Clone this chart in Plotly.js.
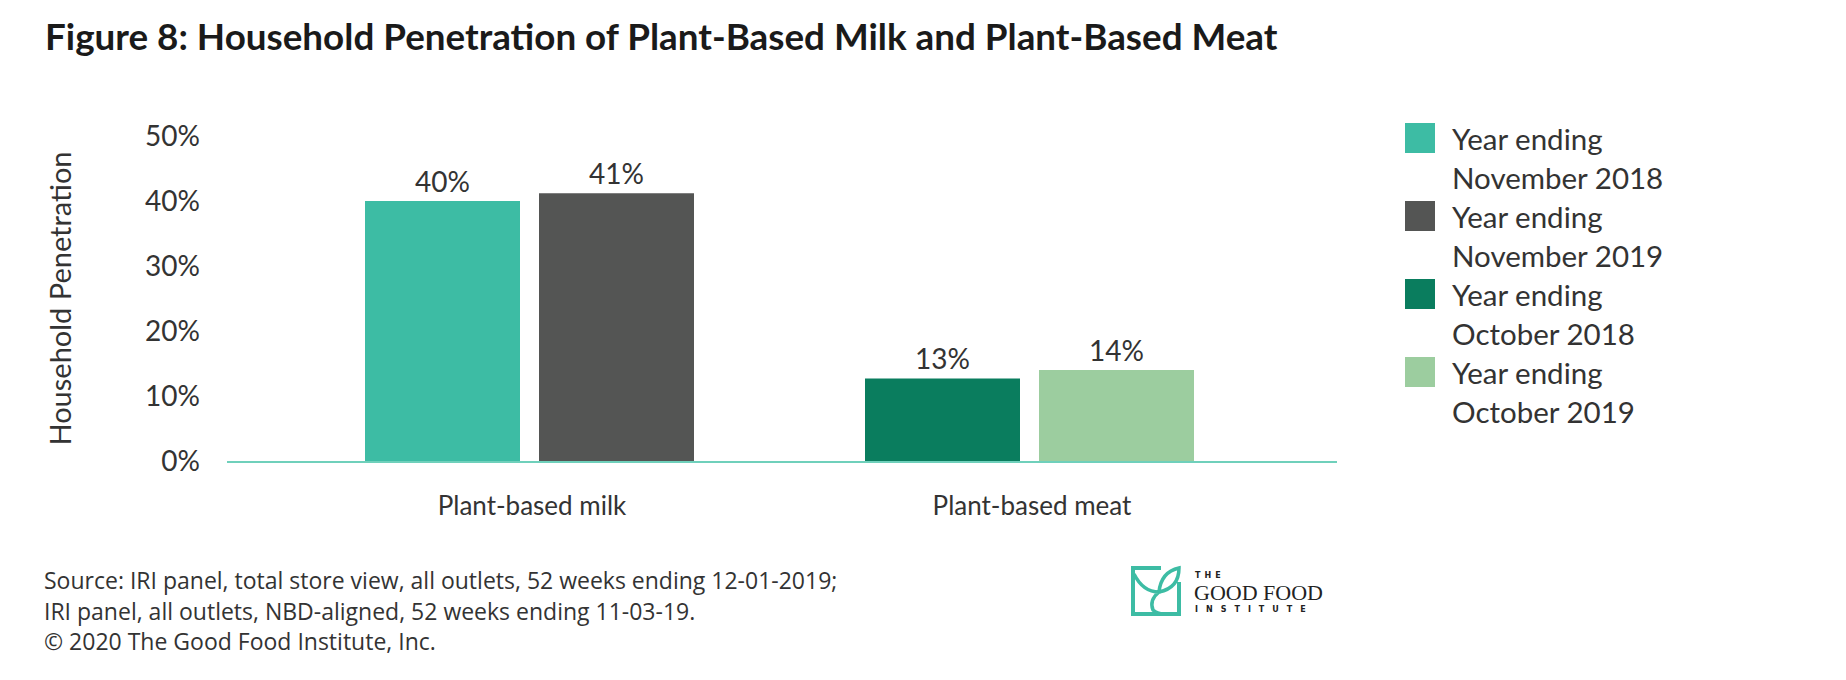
<!DOCTYPE html>
<html>
<head>
<meta charset="utf-8">
<script src="https://cdn.plot.ly/plotly-3.0.1.min.js"></script>
<style>
  html, body { margin: 0; padding: 0; background: #ffffff; }
  #chart { width: 1846px; height: 680px; }
</style>
</head>
<body>
<div id="chart"></div>
<script>
// ---- data ----
const categories = ['Plant-based milk', 'Plant-based meat'];
const seriesNames = [
  ['Year ending', 'November 2018'],
  ['Year ending', 'November 2019'],
  ['Year ending', 'October 2018'],
  ['Year ending', 'October 2019']
];
const seriesCategory = ['Plant-based milk', 'Plant-based milk', 'Plant-based meat', 'Plant-based meat'];
const seriesValues = [40, 41.2, 12.7, 14];
const seriesColors = ['#3dbca4', '#545554', '#0a7d5e', '#9ccd9f'];
const yTicks = [0, 10, 20, 30, 40, 50];
const titleText = 'Figure 8: Household Penetration of Plant-Based Milk and Plant-Based Meat';
const yTitle = 'Household Penetration';
const sourceLines = [
  'Source: IRI panel, total store view, all outlets, 52 weeks ending 12-01-2019;',
  'IRI panel, all outlets, NBD-aligned, 52 weeks ending 11-03-19.',
  '\u00a9 2020 The Good Food Institute, Inc.'
];

// ---- layout geometry (pixels) ----
const W = 1846, H = 680;
const M = { l: 227, r: 509, t: 136, b: 219 };
const PW = W - M.l - M.r, PH = H - M.t - M.b;
const px = x => (x - M.l) / PW;       // pixel x -> paper
const py = y => (H - M.b - y) / PH;   // pixel y -> paper

const FONT = 'Lato, "Open Sans", "Noto Sans", sans-serif';
const SRCFONT = '"Open Sans", Lato, "Noto Sans", sans-serif';
const TEXT = '#333333';

const barWidth = 0.31;
const barOffsets = [-0.334, 0.014, -0.334, 0.014];

const traces = seriesValues.map((v, i) => ({
  type: 'bar',
  name: seriesNames[i].join(' '),
  x: [seriesCategory[i]],
  y: [v],
  width: barWidth,
  offset: barOffsets[i],
  marker: { color: seriesColors[i], line: { width: 0 } },
  text: [Math.round(v) + '%'],
  textposition: 'outside',
  textfont: { family: FONT, size: 28, color: TEXT },
  cliponaxis: false,
  hoverinfo: 'skip',
  showlegend: false
}));

const shapes = [];
const annotations = [];

// legend (manual, large swatches)
seriesNames.forEach((lines, i) => {
  const top = 123 + i * 78;
  shapes.push({
    type: 'rect', xref: 'paper', yref: 'paper',
    x0: px(1405), x1: px(1435), y0: py(top + 30), y1: py(top),
    fillcolor: seriesColors[i], line: { width: 0 }
  });
  lines.forEach((ln, j) => {
    annotations.push({
      xref: 'paper', yref: 'paper', x: px(1450), y: py(top + 15 + j * 39),
      xanchor: 'left', yanchor: 'middle', showarrow: false,
      text: ln, font: { family: FONT, size: 29.5, color: TEXT }
    });
  });
});

// source lines
sourceLines.forEach((ln, i) => {
  annotations.push({
    xref: 'paper', yref: 'paper', x: px(42), y: py(580 + i * 30.5),
    xanchor: 'left', yanchor: 'middle', showarrow: false,
    text: ln, font: { family: SRCFONT, size: 23, color: TEXT }
  });
});

// logo icon
const LOGO = '#3dbca4';
const lx = 1131, ly = 566, ls = 50;
const ix = v => px(lx + v), iy = v => py(ly + v);
shapes.push({
  type: 'path', xref: 'paper', yref: 'paper',
  path: `M${ix(30)},${iy(2)} L${ix(2)},${iy(2)} L${ix(2)},${iy(ls - 2)} L${ix(ls - 2)},${iy(ls - 2)} L${ix(ls - 2)},${iy(16)}`,
  line: { color: LOGO, width: 4 }
});
shapes.push({
  type: 'path', xref: 'paper', yref: 'paper',
  path: `M${ix(3)},${iy(8)} Q${ix(12)},${iy(26)} ${ix(28)},${iy(26)} Q${ix(30)},${iy(6)} ${ix(48)},${iy(2)} Q${ix(48)},${iy(22)} ${ix(28)},${iy(26)} Q${ix(18)},${iy(34)} ${ix(22)},${iy(44)} Q${ix(26)},${iy(48)} ${ix(33)},${iy(48)}`,
  line: { color: LOGO, width: 3.5 }
});
annotations.push({
  xref: 'paper', yref: 'paper', x: px(1193), y: py(575), xanchor: 'left', yanchor: 'middle',
  showarrow: false, text: 'T\u2002H\u2002E',
  font: { family: 'DejaVu Sans, sans-serif', size: 8, color: '#222', weight: 'bold' }
});
annotations.push({
  xref: 'paper', yref: 'paper', x: px(1192), y: py(592), xanchor: 'left', yanchor: 'middle',
  showarrow: false, text: 'GOOD FOOD',
  font: { family: '"Liberation Serif", "DejaVu Serif", serif', size: 22, color: '#222' }
});
annotations.push({
  xref: 'paper', yref: 'paper', x: px(1193), y: py(609), xanchor: 'left', yanchor: 'middle',
  showarrow: false, text: 'I\u2003N\u2003S\u2003T\u2003I\u2003T\u2003U\u2003T\u2003E',
  font: { family: 'DejaVu Sans, sans-serif', size: 8, color: '#222', weight: 'bold' }
});

const layout = {
  width: W, height: H,
  margin: M,
  paper_bgcolor: '#ffffff', plot_bgcolor: '#ffffff',
  barmode: 'overlay',
  showlegend: false,
  font: { family: FONT, color: TEXT },
  title: {
    text: titleText, xref: 'container', yref: 'container',
    x: 45 / W, xanchor: 'left', y: 1 - 37 / H, yanchor: 'middle',
    font: { family: FONT, size: 36.8, color: '#1a1a1a', weight: 'bold' }
  },
  xaxis: {
    type: 'category', categoryorder: 'array', categoryarray: categories,
    range: [-0.61, 1.61], fixedrange: true,
    showline: true, linecolor: '#6fd0bb', linewidth: 2,
    ticks: '', showgrid: false, zeroline: false,
    tickfont: { family: FONT, size: 26, color: TEXT },
    ticklabelstandoff: 21
  },
  yaxis: {
    range: [0, 50], fixedrange: true,
    tickvals: yTicks, ticktext: yTicks.map(v => v + '%'),
    showline: false, showgrid: false, zeroline: false, ticks: '',
    tickfont: { family: FONT, size: 28, color: TEXT },
    ticklabelstandoff: 26,
    title: { text: yTitle, standoff: 64, font: { family: FONT, size: 29, color: TEXT } },
    automargin: false
  },
  shapes: shapes,
  annotations: annotations
};

Plotly.newPlot('chart', traces, layout, { displayModeBar: false, staticPlot: true });
</script>
</body>
</html>
